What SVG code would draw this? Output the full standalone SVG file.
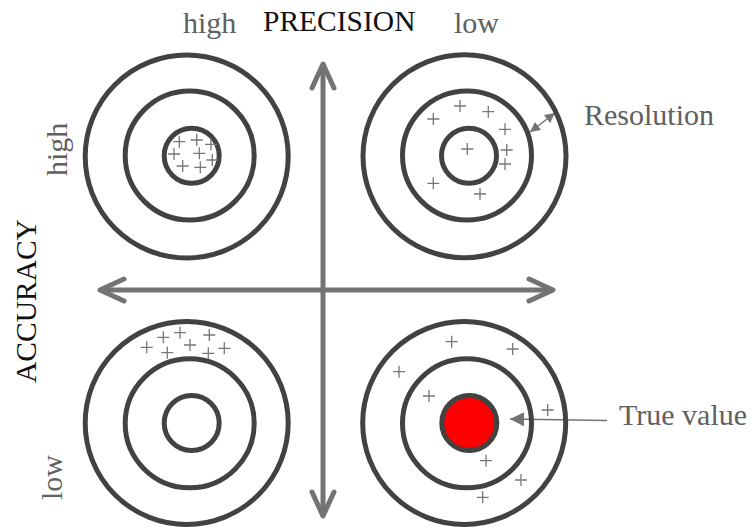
<svg xmlns="http://www.w3.org/2000/svg" width="752" height="527" viewBox="0 0 752 527">
<style>
.ring{fill:none;stroke:#424242;stroke-width:5}
.hit{stroke:#777;stroke-width:1.3;fill:none}
.axis{stroke:#737373;stroke-width:5;fill:none;marker-start:url(#chev);marker-end:url(#chev)}
.lbl{font-family:"Liberation Serif","DejaVu Serif",serif;font-size:30px;fill:#606060}
.ttl{font-family:"Liberation Serif","DejaVu Serif",serif;font-size:29.5px;fill:#111}
.thin{stroke:#737373;stroke-width:1.5;fill:none}
</style>
<defs>
<marker id="chev" markerUnits="userSpaceOnUse" orient="auto-start-reverse" overflow="visible" markerWidth="1" markerHeight="1">
<path d="M-24,-11 L0,0 L-24,11" fill="none" stroke="#737373" stroke-width="5" stroke-linecap="round" stroke-linejoin="round"/>
</marker>
<marker id="tri" markerUnits="userSpaceOnUse" orient="auto-start-reverse" overflow="visible" markerWidth="1" markerHeight="1">
<path d="M0,0 L-14,-7 L-14,7 z" fill="#737373"/>
</marker>
<marker id="tris" markerUnits="userSpaceOnUse" orient="auto-start-reverse" overflow="visible" markerWidth="1" markerHeight="1">
<path d="M0,0 L-10,-5 L-10,5 z" fill="#737373"/>
</marker>
<path id="p" d="M-6,0 H6 M0,-6 V6"/>
</defs>

<g id="connectors">
<line class="axis" x1="323" y1="64" x2="323" y2="516"/>
<line class="axis" x1="100" y1="290" x2="553" y2="290"/>
<line class="thin" x1="555" y1="113" x2="530" y2="132" marker-start="url(#tris)" marker-end="url(#tris)"/>
<line class="thin" x1="607" y1="420.5" x2="510" y2="419" marker-end="url(#tri)"/>
</g>

<g id="target-high-high">
<circle class="ring" cx="186.7" cy="156.5" r="101.5"/>
<circle class="ring" cx="189.7" cy="155.5" r="64.5"/>
<circle class="ring" cx="191.7" cy="155.7" r="27.5"/>
<g class="hit">
<use href="#p" x="179.3" y="141.7"/><use href="#p" x="196.7" y="140"/><use href="#p" x="211" y="144.3"/>
<use href="#p" x="174" y="154"/><use href="#p" x="199.3" y="153.3"/><use href="#p" x="212.3" y="160"/>
<use href="#p" x="182.7" y="166"/><use href="#p" x="200.3" y="167.3"/>
</g>
</g>

<g id="target-high-low">
<circle class="ring" cx="464.5" cy="156.3" r="101.5"/>
<circle class="ring" cx="467" cy="155.5" r="64.5"/>
<circle class="ring" cx="469" cy="155.7" r="27.5"/>
<g class="hit">
<use href="#p" x="460" y="106"/><use href="#p" x="433.3" y="119"/><use href="#p" x="488.3" y="111.7"/>
<use href="#p" x="505" y="129.3"/><use href="#p" x="506.7" y="150"/><use href="#p" x="505" y="164"/>
<use href="#p" x="467.3" y="149"/><use href="#p" x="433.3" y="183.3"/><use href="#p" x="480" y="194"/>
</g>
</g>

<g id="target-low-high">
<circle class="ring" cx="186.7" cy="423" r="101.5"/>
<circle class="ring" cx="189.7" cy="423.3" r="64.5"/>
<circle class="ring" cx="191.7" cy="423" r="27.5"/>
<g class="hit">
<use href="#p" x="146.7" y="347.3"/><use href="#p" x="163.3" y="337.3"/><use href="#p" x="180" y="332.7"/>
<use href="#p" x="167.3" y="352.7"/><use href="#p" x="190" y="345"/><use href="#p" x="209.3" y="335"/>
<use href="#p" x="208.3" y="353.3"/><use href="#p" x="224.3" y="348.3"/>
</g>
</g>

<g id="target-low-low">
<circle class="ring" cx="464.2" cy="423" r="101.5"/>
<circle class="ring" cx="467" cy="423.3" r="64.5"/>
<circle cx="469.3" cy="423" r="27.5" fill="#ff0000" stroke="#424242" stroke-width="5"/>
<g class="hit">
<use href="#p" x="451.7" y="341.7"/><use href="#p" x="512.7" y="349"/><use href="#p" x="399" y="371.7"/>
<use href="#p" x="429" y="396"/><use href="#p" x="547.7" y="410"/><use href="#p" x="486" y="460.7"/>
<use href="#p" x="521" y="480"/><use href="#p" x="482.7" y="497.3"/>
</g>
</g>

<g id="labels">
<text class="lbl" x="183" y="33">high</text>
<text class="ttl" x="263" y="31">PRECISION</text>
<text class="lbl" x="454" y="33">low</text>
<text class="ttl" transform="translate(36,383) rotate(-90)">ACCURACY</text>
<text class="lbl" transform="translate(67,176) rotate(-90)">high</text>
<text class="lbl" transform="translate(62,500) rotate(-90)">low</text>
<text class="lbl" x="584" y="125">Resolution</text>
<text class="lbl" x="619" y="425">True value</text>
</g>
</svg>
